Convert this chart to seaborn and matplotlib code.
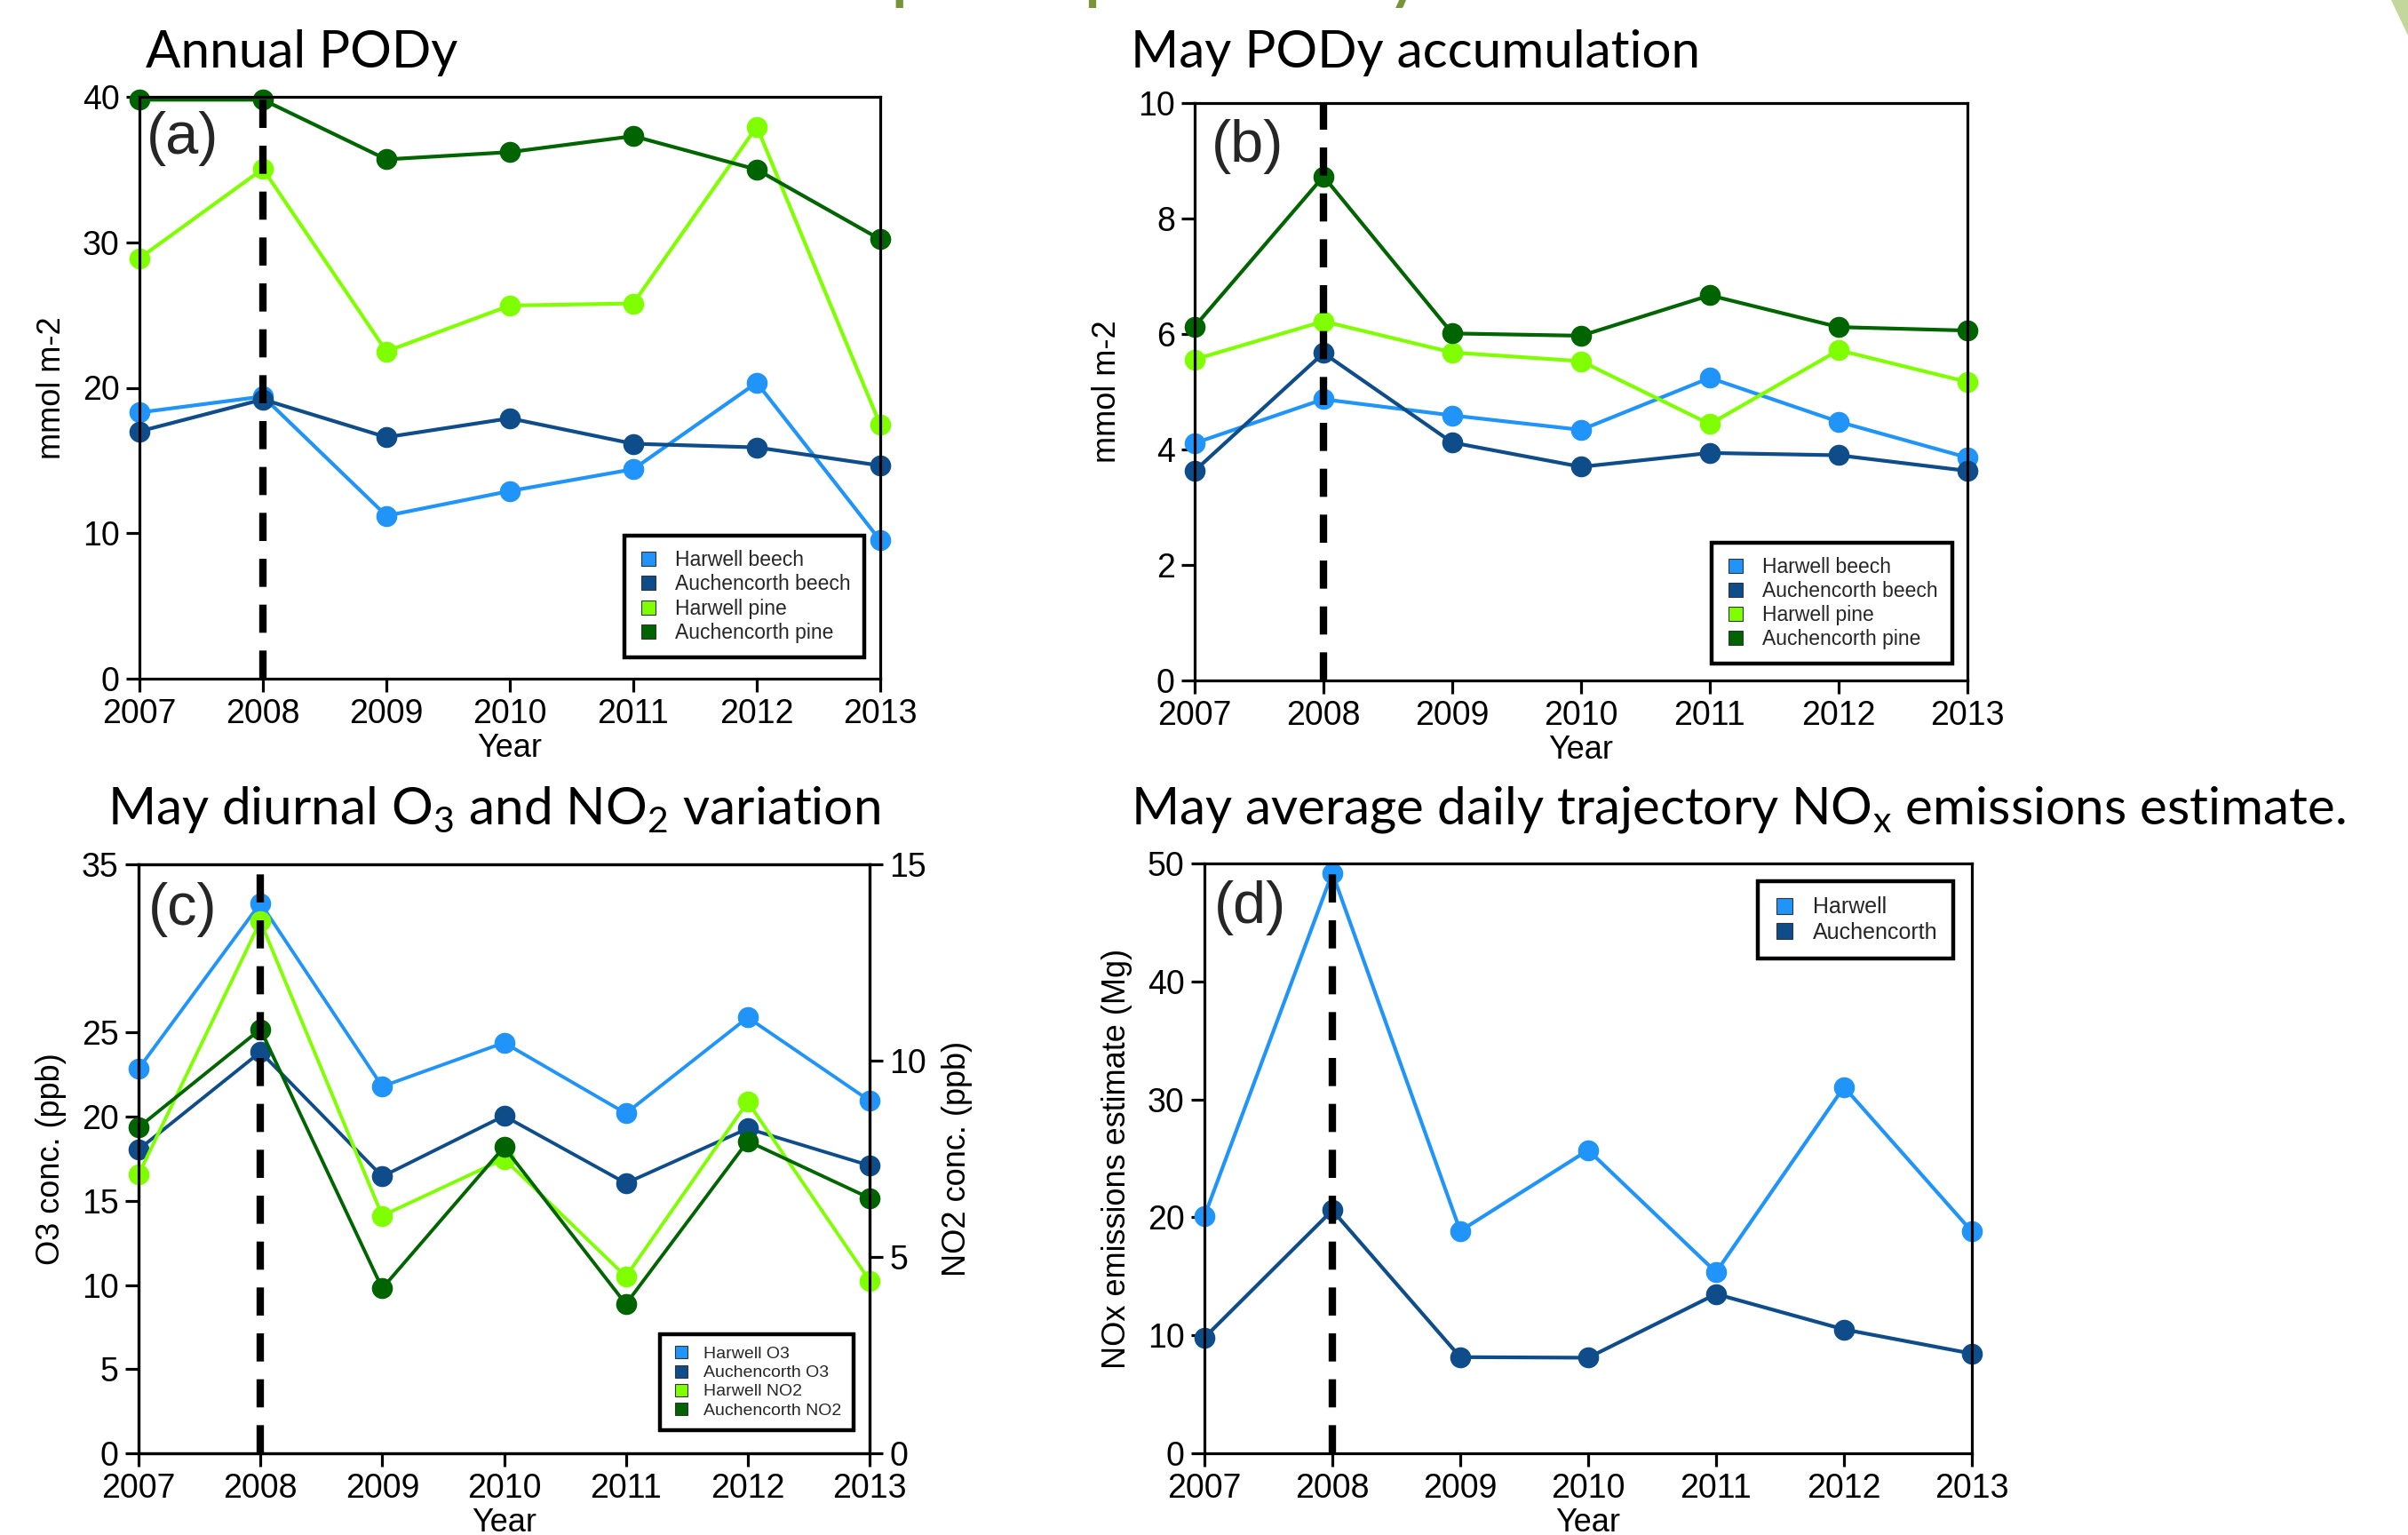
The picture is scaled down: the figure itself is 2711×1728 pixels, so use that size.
import numpy as np
import pandas as pd
import matplotlib
matplotlib.use("Agg")
import matplotlib.pyplot as plt
import seaborn as sns
from matplotlib.lines import Line2D
from matplotlib.patches import Polygon

# ---------------- data ----------------
years = [2007, 2008, 2009, 2010, 2011, 2012, 2013]

# (a) Annual PODy (mmol m-2)
a_harwell_beech = [18.3, 19.4, 11.2, 12.9, 14.4, 20.35, 9.5]
a_auch_beech = [17.0, 19.2, 16.6, 17.9, 16.15, 15.9, 14.65]
a_harwell_pine = [28.9, 35.05, 22.5, 25.65, 25.8, 37.95, 17.45]
a_auch_pine = [39.8, 39.8, 35.7, 36.2, 37.3, 35.0, 30.2]

# (b) May PODy accumulation (mmol m-2)
b_harwell_beech = [4.11, 4.87, 4.59, 4.34, 5.24, 4.48, 3.86]
b_auch_beech = [3.63, 5.67, 4.12, 3.70, 3.94, 3.90, 3.63]
b_harwell_pine = [5.56, 6.22, 5.68, 5.53, 4.44, 5.72, 5.17]
b_auch_pine = [6.13, 8.73, 6.01, 5.97, 6.67, 6.12, 6.06]

# (c) May diurnal O3 (left axis) and NO2 (right axis), ppb
c_harwell_o3 = [22.85, 32.7, 21.8, 24.4, 20.2, 25.9, 20.95]
c_auch_o3 = [18.05, 23.85, 16.45, 20.05, 16.05, 19.3, 17.1]
c_harwell_no2 = [7.1, 13.55, 6.05, 7.5, 4.5, 8.95, 4.4]
c_auch_no2 = [8.3, 10.8, 4.2, 7.8, 3.8, 7.95, 6.5]

# (d) May average daily trajectory NOx emissions estimate (Mg)
d_harwell = [20.1, 49.2, 18.85, 25.7, 15.35, 31.05, 18.8]
d_auch = [9.8, 20.6, 8.15, 8.1, 13.5, 10.5, 8.45]

pod_labels = ["Harwell beech", "Auchencorth beech", "Harwell pine", "Auchencorth pine"]
o3_labels = ["Harwell O3", "Auchencorth O3"]
no2_labels = ["Harwell NO2", "Auchencorth NO2"]
nox_labels = ["Harwell", "Auchencorth"]

LIGHT_BLUE = "#2094F8"
DARK_BLUE = "#0F4D8A"
LIME = "#80FF00"
DARK_GREEN = "#006400"
c4 = [LIGHT_BLUE, DARK_BLUE, LIME, DARK_GREEN]

# ---------------- style ----------------
sns.set_theme(style="ticks")
plt.rcParams["font.family"] = ["Liberation Sans", "DejaVu Sans"]
plt.rcParams["mathtext.fontset"] = "custom"
plt.rcParams["mathtext.rm"] = "Lato"
plt.rcParams["mathtext.it"] = "Lato:italic"
plt.rcParams["mathtext.bf"] = "Lato:bold"

W, H = 2711, 1728
fig = plt.figure(figsize=(W / 100, H / 100), dpi=100)
fig.patch.set_facecolor("white")


def px_axes(l, r, t, b):
    return fig.add_axes([l / W, 1 - b / H, (r - l) / W, (b - t) / H])


def long_df(labels, series):
    rows = []
    for lab, vals in zip(labels, series):
        for yr, v in zip(years, vals):
            rows.append({"Year": yr, "value": v, "series": lab})
    return pd.DataFrame(rows)


def draw_lines(ax, labels, series, colors, lw=3.0, ms=17):
    df = long_df(labels, series)
    sns.lineplot(data=df, x="Year", y="value", hue="series", hue_order=labels,
                 palette=dict(zip(labels, colors)), marker="o", markersize=ms,
                 markeredgewidth=0, linewidth=lw, ax=ax, legend=False, sort=False)
    for ln in ax.lines:
        ln.set_clip_on(False)


SPW = 2.3
TICKFS = 27


def style_axes(ax, ylim, yticks, ylabel, labelpad_y=12):
    ax.set_xlim(2007, 2013)
    ax.set_ylim(*ylim)
    ax.set_xticks(years)
    ax.set_xticklabels([str(y) for y in years])
    ax.set_yticks(yticks)
    ax.set_facecolor("white")
    ax.tick_params(axis="both", direction="out", length=11, width=SPW, labelsize=TICKFS,
                   pad=5, colors="black", top=False, right=False)
    for s in ax.spines.values():
        s.set_visible(True)
        s.set_linewidth(SPW)
        s.set_color("black")
    ax.set_xlabel("Year", fontsize=26, labelpad=2, color="black")
    ax.set_ylabel(ylabel, fontsize=26, labelpad=labelpad_y, color="black")
    ax.grid(False)


def vline(ax):
    ax.axvline(2008, color="black", lw=6, dashes=(3.8, 2.4), zorder=10)


def add_legend(ax, labels, colors, fs, loc, anchor):
    handles = [Line2D([], [], marker="s", linestyle="None", markersize=fs * 0.72,
                      markerfacecolor=c, markeredgecolor="#333333", markeredgewidth=0.8)
               for c in colors]
    leg = ax.legend(handles, labels, loc=loc, bbox_to_anchor=anchor, frameon=True,
                    fancybox=False, edgecolor="black", framealpha=1, facecolor="white",
                    borderpad=0.7, handlelength=1.0, handletextpad=0.8,
                    labelspacing=0.18, borderaxespad=0, prop={"size": fs})
    leg.get_frame().set_linewidth(3.2)
    leg.set_zorder(20)
    return leg


LABELFS = 48
title_font = dict(family="Lato", fontsize=42, color="black")

# ---------------- (a) ----------------
axa = px_axes(157, 991, 109, 764)
draw_lines(axa, pod_labels, [a_harwell_beech, a_auch_beech, a_harwell_pine, a_auch_pine], c4)
style_axes(axa, (0, 40), [0, 10, 20, 30, 40], "mmol m-2")
vline(axa)
add_legend(axa, pod_labels, c4, 16.5, "lower right", (0.979, 0.037))
axa.text(0.010, 0.975, "(a)", transform=axa.transAxes, ha="left", va="top", fontsize=LABELFS, zorder=15)
fig.text(164 / W, 1 - 60 / H, "Annual PODy", ha="left", va="center", **title_font)

# ---------------- (b) ----------------
axb = px_axes(1345, 2215, 116, 766)
draw_lines(axb, pod_labels, [b_harwell_beech, b_auch_beech, b_harwell_pine, b_auch_pine], c4)
style_axes(axb, (0, 10), [0, 2, 4, 6, 8, 10], "mmol m-2")
vline(axb)
add_legend(axb, pod_labels, c4, 16.5, "lower right", (0.980, 0.029))
axb.text(0.022, 0.972, "(b)", transform=axb.transAxes, ha="left", va="top", fontsize=LABELFS, zorder=15)
fig.text(1273 / W, 1 - 60 / H, "May PODy accumulation", ha="left", va="center", **title_font)

# ---------------- (c) ----------------
axc = px_axes(156, 979, 973, 1636)
draw_lines(axc, o3_labels, [c_harwell_o3, c_auch_o3], [LIGHT_BLUE, DARK_BLUE], lw=2.8)
style_axes(axc, (0, 35), [0, 5, 10, 15, 20, 25, 35], "O3 conc. (ppb)")
axc2 = axc.twinx()
draw_lines(axc2, no2_labels, [c_harwell_no2, c_auch_no2], [LIME, DARK_GREEN], lw=2.8)
axc2.set_ylim(0, 15)
axc2.set_yticks([0, 5, 10, 15])
axc2.set_ylabel("NO2 conc. (ppb)", fontsize=26, labelpad=12, color="black")
axc2.tick_params(axis="y", direction="out", length=11, width=SPW, labelsize=TICKFS, pad=5,
                 colors="black", right=True, left=False)
axc2.grid(False)
for s in axc2.spines.values():
    s.set_linewidth(SPW)
    s.set_color("black")
vline(axc2)
add_legend(axc2, ["Harwell O3", "Auchencorth O3", "Harwell NO2", "Auchencorth NO2"], c4, 14,
           "lower right", (0.978, 0.039))
axc2.text(0.013, 0.970, "(c)", transform=axc2.transAxes, ha="left", va="top", fontsize=LABELFS, zorder=15)
fig.text(121 / W, 1 - 911 / H, "May diurnal O$_3$ and NO$_2$ variation", ha="left", va="center",
         **title_font)

# ---------------- (d) ----------------
axd = px_axes(1356, 2220, 972, 1636)
draw_lines(axd, nox_labels, [d_harwell, d_auch], [LIGHT_BLUE, DARK_BLUE])
style_axes(axd, (0, 50), [0, 10, 20, 30, 40, 50], "NOx emissions estimate (Mg)")
vline(axd)
add_legend(axd, nox_labels, [LIGHT_BLUE, DARK_BLUE], 18, "upper right", (0.976, 0.970))
axd.text(0.013, 0.971, "(d)", transform=axd.transAxes, ha="left", va="top", fontsize=LABELFS, zorder=15)
fig.text(1273 / W, 1 - 911 / H, "May average daily trajectory NO$_\\mathregular{x}$ emissions estimate.",
         ha="left", va="center", **title_font)

# ---------------- slide decorations ----------------
fig.text(1250 / W, 1 + 3 / H, "Greatest pine impacts in May 2008", ha="center", va="baseline",
         fontsize=48, fontweight="bold", color="#77933C", family="Lato")
fig.add_artist(Polygon([(2692 / W, 1.0), (1.0, 1.0), (1.0, 1 - 40 / H)], closed=True,
                       transform=fig.transFigure, facecolor="#C3D69B", edgecolor="none"))

fig.savefig("out.png", dpi=100, facecolor="white")
